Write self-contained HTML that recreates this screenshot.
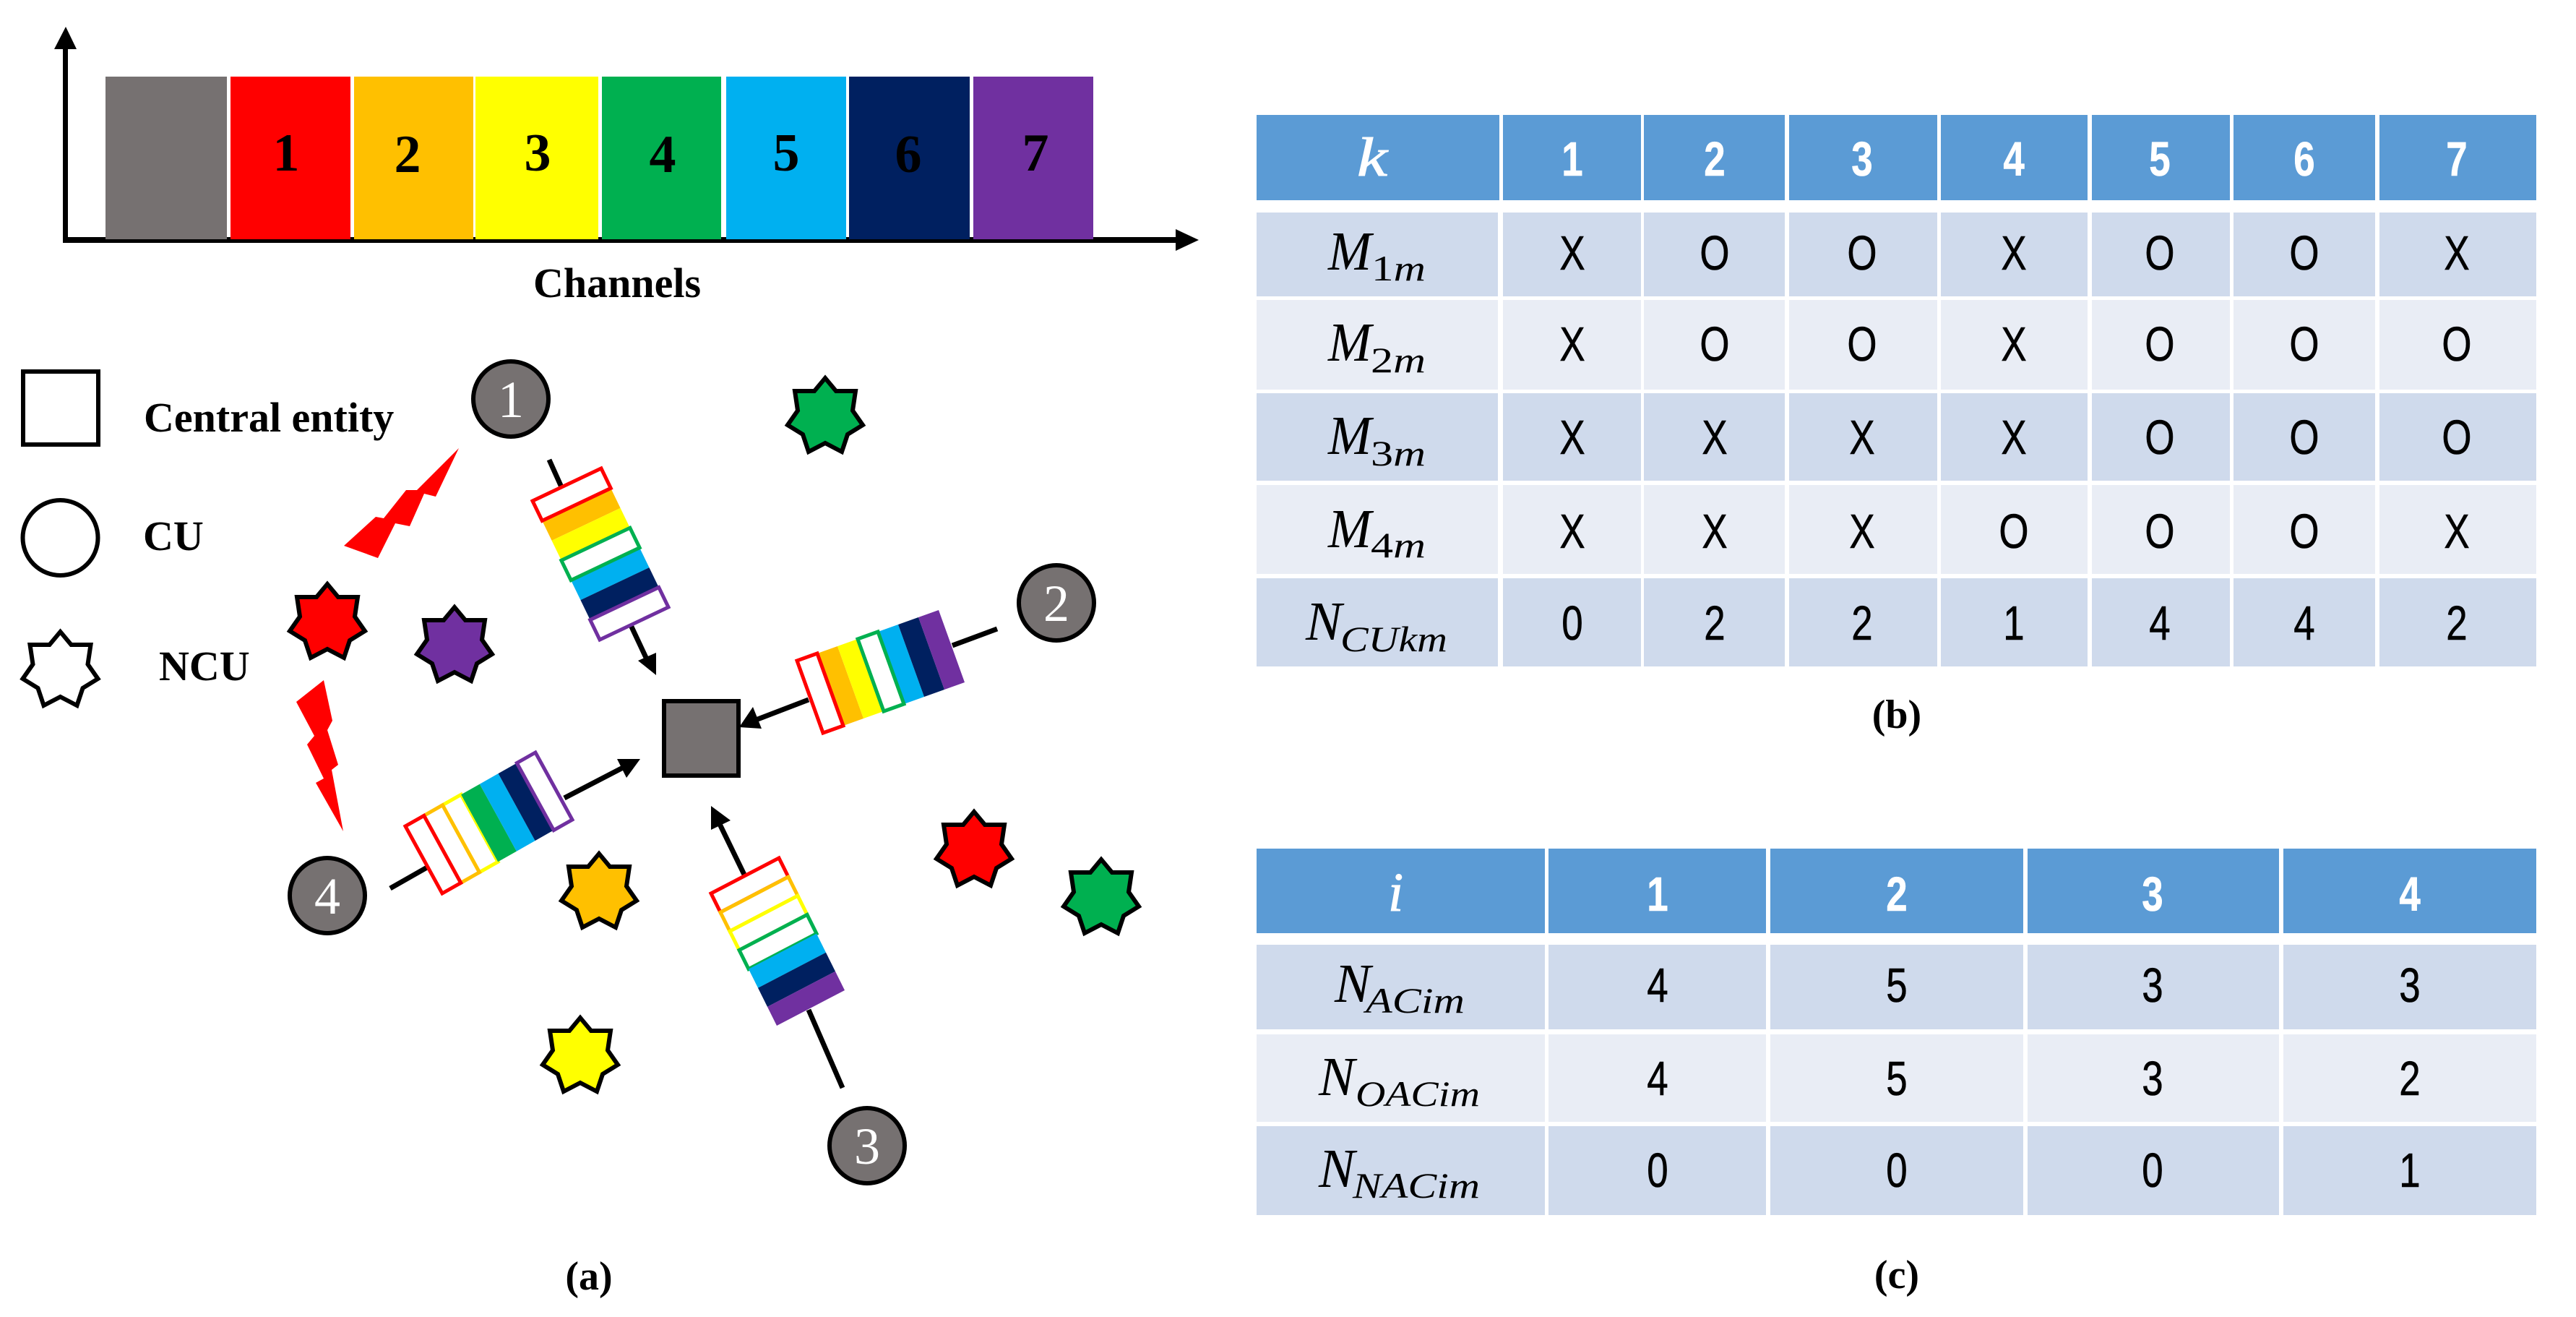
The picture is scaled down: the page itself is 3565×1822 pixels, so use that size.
<!DOCTYPE html>
<html><head><meta charset="utf-8"><style>
html,body{margin:0;padding:0;background:#fff}
svg{display:block}
.b{font-family:"Liberation Serif",serif;font-weight:bold;fill:#000}
.t{font-family:"Liberation Sans",sans-serif;font-size:67px;text-anchor:middle;fill:#000;stroke:#000;stroke-width:.6;transform-box:fill-box;transform-origin:center;transform:scaleX(.79)}
.h{fill:#fff;stroke:#fff;font-weight:bold}
.m{font-family:"Liberation Serif",serif;font-style:italic;font-size:76px;fill:#000}
.s{font-family:"Liberation Serif",serif;font-style:italic;font-size:50px;fill:#000}
.s tspan{font-style:normal}
.n{font-family:"Liberation Serif",serif;font-size:72px;fill:#fff;text-anchor:middle}
.l{stroke:#000;stroke-width:7;fill:none}
.st{stroke:#000;stroke-width:6;stroke-linejoin:miter}
.o{fill:#fff;stroke-width:5;vector-effect:non-scaling-stroke}
.f{stroke:none}
.hd{fill:#5B9BD5}.r1{fill:#CFDAEC}.r2{fill:#E9EDF5}
</style></head><body>
<svg xmlns="http://www.w3.org/2000/svg" width="3565" height="1822" viewBox="0 0 3565 1822">
<defs><polygon id="s" points="0,-53 15,-35 42,-35 38,-8 52,12 31,25 23,49 0,37 -23,49 -31,25 -52,12 -38,-8 -42,-35 -15,-35"/></defs>
<rect width="3565" height="1822" fill="#fff"/>

<!-- axes -->
<rect x="87" y="66" width="7" height="270"/>
<polygon points="91,37 75,68 106,68"/>
<rect x="87" y="328" width="1542" height="8"/>
<polygon points="1659,332 1627,317 1627,347"/>
<!-- bars -->
<rect x="146" y="106" width="168" height="225" fill="#767171"/>
<rect x="319" y="106" width="166" height="225" fill="#FF0000"/>
<rect x="490" y="106" width="165" height="225" fill="#FFC000"/>
<rect x="658" y="106" width="170" height="225" fill="#FFFF00"/>
<rect x="833" y="106" width="165" height="225" fill="#00B050"/>
<rect x="1005" y="106" width="166" height="225" fill="#00B0F0"/>
<rect x="1175" y="106" width="167" height="225" fill="#002060"/>
<rect x="1347" y="106" width="166" height="225" fill="#7030A0"/>
<g class="b" font-size="74" text-anchor="middle">
<text x="396" y="236">1</text><text x="564" y="238">2</text><text x="744" y="236">3</text><text x="917" y="238">4</text><text x="1088" y="236">5</text><text x="1257" y="238">6</text><text x="1433" y="236">7</text>
</g>
<text class="b" x="854" y="411" font-size="58" text-anchor="middle">Channels</text>

<!-- legend -->
<rect x="32" y="514" width="104" height="101" fill="#fff" stroke="#000" stroke-width="6"/>
<ellipse cx="83.5" cy="744" rx="52" ry="52" fill="#fff" stroke="#000" stroke-width="6"/>
<use href="#s" x="83.5" y="927" fill="#fff" class="st"/>
<text class="b" x="199" y="597" font-size="58">Central entity</text>
<text class="b" x="198" y="761" font-size="58">CU</text>
<text class="b" x="220" y="941" font-size="58">NCU</text>

<!-- lightning -->
<polygon fill="#FF0000" points="635,620 603,687 587,683 567,728 547,724 523,772 476,755 520,715 531,717 562,678 577,678"/>
<polygon fill="#FF0000" points="475,1150 437,1083 448,1077 425,1030 435,1018 410,971 448,941 460,997 453,1010 468,1058 459,1065"/>

<!-- stars -->
<use href="#s" x="453" y="861" fill="#FF0000" class="st"/>
<use href="#s" x="629" y="893" fill="#7030A0" class="st"/>
<use href="#s" x="1142" y="576" fill="#00B050" class="st"/>
<use href="#s" x="829" y="1234" fill="#FFC000" class="st"/>
<use href="#s" x="803" y="1461" fill="#FFFF00" class="st"/>
<use href="#s" x="1348" y="1176" fill="#FF0000" class="st"/>
<use href="#s" x="1524" y="1242" fill="#00B050" class="st"/>

<!-- connector lines and arrowheads -->
<line class="l" x1="760" y1="636" x2="778" y2="676"/>
<line class="l" x1="873" y1="865" x2="896" y2="914"/>
<polygon points="908,934 883,914 908,903"/>
<line class="l" x1="1380" y1="870" x2="1318" y2="893"/>
<line class="l" x1="1119" y1="968" x2="1046" y2="996"/>
<polygon points="1023,1006 1042,978 1054,1008"/>
<line class="l" x1="1166" y1="1505" x2="1119" y2="1397"/>
<line class="l" x1="1030" y1="1210" x2="995" y2="1138"/>
<polygon points="984,1115 984,1148 1011,1135"/>
<line class="l" x1="540" y1="1229" x2="591" y2="1200"/>
<line class="l" x1="781" y1="1104" x2="862" y2="1062"/>
<polygon points="886,1050 854,1050 867,1076"/>

<!-- stack 1 -->
<g transform="matrix(95 -45 93 192 737 693)">
<rect class="f" y=".1429" width="1" height=".1429" fill="#FFC000"/>
<rect class="f" y=".2857" width="1" height=".1429" fill="#FFFF00"/>
<rect class="f" y=".5714" width="1" height=".1429" fill="#00B0F0"/>
<rect class="f" y=".7143" width="1" height=".1429" fill="#002060"/>
<rect class="o" y="0" width="1" height=".1429" stroke="#FF0000"/>
<rect class="o" y=".4286" width="1" height=".1429" stroke="#00B050"/>
<rect class="o" y=".8571" width="1" height=".1429" stroke="#7030A0"/>
</g>
<!-- stack 2 -->
<g transform="matrix(36 100 196 -70 1103 914)">
<rect class="f" y=".1429" width="1" height=".1429" fill="#FFC000"/>
<rect class="f" y=".2857" width="1" height=".1429" fill="#FFFF00"/>
<rect class="f" y=".5714" width="1" height=".1429" fill="#00B0F0"/>
<rect class="f" y=".7143" width="1" height=".1429" fill="#002060"/>
<rect class="f" y=".8571" width="1" height=".1429" fill="#7030A0"/>
<rect class="o" y="0" width="1" height=".1429" stroke="#FF0000"/>
<rect class="o" y=".4286" width="1" height=".1429" stroke="#00B050"/>
</g>
<!-- stack 3 -->
<g transform="matrix(94 -49 91 183 984 1236)">
<rect class="o" y="0" width="1" height=".1429" stroke="#FF0000"/>
<rect class="o" y=".1429" width="1" height=".1429" stroke="#FFC000"/>
<rect class="o" y=".2857" width="1" height=".1429" stroke="#FFFF00"/>
<rect class="o" y=".4286" width="1" height=".1429" stroke="#00B050"/>
<rect class="f" y=".5714" width="1" height=".1429" fill="#00B0F0"/>
<rect class="f" y=".7143" width="1" height=".1429" fill="#002060"/>
<rect class="f" y=".8571" width="1" height=".1429" fill="#7030A0"/>
</g>
<!-- stack 4 -->
<g transform="matrix(51 93 180 -102 561 1143)">
<rect class="o" y=".2857" width="1" height=".1429" stroke="#FFFF00"/>
<rect class="o" y=".1429" width="1" height=".1429" stroke="#FFC000"/>
<rect class="o" y="0" width="1" height=".1429" stroke="#FF0000"/>
<rect class="f" y=".4286" width="1" height=".1429" fill="#00B050"/>
<rect class="f" y=".5714" width="1" height=".1429" fill="#00B0F0"/>
<rect class="f" y=".7143" width="1" height=".1429" fill="#002060"/>
<rect class="o" y=".8571" width="1" height=".1429" stroke="#7030A0"/>
</g>

<!-- central entity -->
<rect x="919" y="970" width="103" height="103" fill="#767171" stroke="#000" stroke-width="6"/>

<!-- CU nodes -->
<g fill="#767171" stroke="#000" stroke-width="6">
<circle cx="707" cy="552" r="52"/>
<circle cx="1462" cy="834" r="52"/>
<circle cx="1200" cy="1585" r="52"/>
<circle cx="453" cy="1239" r="52"/>
</g>
<text class="n" x="707" y="577">1</text>
<text class="n" x="1462" y="859">2</text>
<text class="n" x="1200" y="1610">3</text>
<text class="n" x="453" y="1264">4</text>

<!-- table b -->
<g class="hd">
<rect x="1739" y="159" width="336" height="118"/><rect x="2080" y="159" width="191" height="118"/><rect x="2275" y="159" width="195" height="118"/><rect x="2476" y="159" width="205" height="118"/><rect x="2686" y="159" width="203" height="118"/><rect x="2895" y="159" width="191" height="118"/><rect x="3091" y="159" width="196" height="118"/><rect x="3293" y="159" width="217" height="118"/>
</g>
<g class="r1">
<rect x="1739" y="294" width="334" height="116"/><rect x="2080" y="294" width="191" height="116"/><rect x="2275" y="294" width="195" height="116"/><rect x="2476" y="294" width="205" height="116"/><rect x="2686" y="294" width="203" height="116"/><rect x="2895" y="294" width="191" height="116"/><rect x="3091" y="294" width="196" height="116"/><rect x="3293" y="294" width="217" height="116"/>
</g>
<g class="r2">
<rect x="1739" y="415" width="334" height="124"/><rect x="2080" y="415" width="191" height="124"/><rect x="2275" y="415" width="195" height="124"/><rect x="2476" y="415" width="205" height="124"/><rect x="2686" y="415" width="203" height="124"/><rect x="2895" y="415" width="191" height="124"/><rect x="3091" y="415" width="196" height="124"/><rect x="3293" y="415" width="217" height="124"/>
</g>
<g class="r1">
<rect x="1739" y="544" width="334" height="121"/><rect x="2080" y="544" width="191" height="121"/><rect x="2275" y="544" width="195" height="121"/><rect x="2476" y="544" width="205" height="121"/><rect x="2686" y="544" width="203" height="121"/><rect x="2895" y="544" width="191" height="121"/><rect x="3091" y="544" width="196" height="121"/><rect x="3293" y="544" width="217" height="121"/>
</g>
<g class="r2">
<rect x="1739" y="671" width="334" height="123"/><rect x="2080" y="671" width="191" height="123"/><rect x="2275" y="671" width="195" height="123"/><rect x="2476" y="671" width="205" height="123"/><rect x="2686" y="671" width="203" height="123"/><rect x="2895" y="671" width="191" height="123"/><rect x="3091" y="671" width="196" height="123"/><rect x="3293" y="671" width="217" height="123"/>
</g>
<g class="r1">
<rect x="1739" y="800" width="334" height="122"/><rect x="2080" y="800" width="191" height="122"/><rect x="2275" y="800" width="195" height="122"/><rect x="2476" y="800" width="205" height="122"/><rect x="2686" y="800" width="203" height="122"/><rect x="2895" y="800" width="191" height="122"/><rect x="3091" y="800" width="196" height="122"/><rect x="3293" y="800" width="217" height="122"/>
</g>
<text class="m" x="1878" y="243" textLength="42" lengthAdjust="spacingAndGlyphs" style="fill:#fff;stroke:#fff;stroke-width:1">k</text>
<text class="t h" x="2176" y="243">1</text><text class="t h" x="2373" y="243">2</text><text class="t h" x="2577" y="243">3</text><text class="t h" x="2787" y="243">4</text><text class="t h" x="2989" y="243">5</text><text class="t h" x="3189" y="243">6</text><text class="t h" x="3400" y="243">7</text>

<text class="m" x="1838" y="373" textLength="60" lengthAdjust="spacingAndGlyphs">M</text><text class="s" x="1898" y="388" textLength="75" lengthAdjust="spacingAndGlyphs"><tspan>1</tspan>m</text>
<text class="t" x="2176" y="373">X</text><text class="t" x="2373" y="373">O</text><text class="t" x="2577" y="373">O</text><text class="t" x="2787" y="373">X</text><text class="t" x="2989" y="373">O</text><text class="t" x="3189" y="373">O</text><text class="t" x="3400" y="373">X</text>

<text class="m" x="1838" y="499" textLength="60" lengthAdjust="spacingAndGlyphs">M</text><text class="s" x="1897" y="515" textLength="76" lengthAdjust="spacingAndGlyphs"><tspan>2</tspan>m</text>
<text class="t" x="2176" y="499">X</text><text class="t" x="2373" y="499">O</text><text class="t" x="2577" y="499">O</text><text class="t" x="2787" y="499">X</text><text class="t" x="2989" y="499">O</text><text class="t" x="3189" y="499">O</text><text class="t" x="3400" y="499">O</text>

<text class="m" x="1838" y="628" textLength="60" lengthAdjust="spacingAndGlyphs">M</text><text class="s" x="1897" y="644" textLength="76" lengthAdjust="spacingAndGlyphs"><tspan>3</tspan>m</text>
<text class="t" x="2176" y="628">X</text><text class="t" x="2373" y="628">X</text><text class="t" x="2577" y="628">X</text><text class="t" x="2787" y="628">X</text><text class="t" x="2989" y="628">O</text><text class="t" x="3189" y="628">O</text><text class="t" x="3400" y="628">O</text>

<text class="m" x="1838" y="757" textLength="60" lengthAdjust="spacingAndGlyphs">M</text><text class="s" x="1897" y="771" textLength="76" lengthAdjust="spacingAndGlyphs"><tspan>4</tspan>m</text>
<text class="t" x="2176" y="758">X</text><text class="t" x="2373" y="758">X</text><text class="t" x="2577" y="758">X</text><text class="t" x="2787" y="758">O</text><text class="t" x="2989" y="758">O</text><text class="t" x="3189" y="758">O</text><text class="t" x="3400" y="758">X</text>

<text class="m" x="1807" y="885" textLength="50" lengthAdjust="spacingAndGlyphs">N</text><text class="s" x="1855" y="901" textLength="148" lengthAdjust="spacingAndGlyphs">CUkm</text>
<text class="t" x="2176" y="885">0</text><text class="t" x="2373" y="885">2</text><text class="t" x="2577" y="885">2</text><text class="t" x="2787" y="885">1</text><text class="t" x="2989" y="885">4</text><text class="t" x="3189" y="885">4</text><text class="t" x="3400" y="885">2</text>

<text class="b" x="2625" y="1007" font-size="56" text-anchor="middle">(b)</text>

<!-- table c -->
<g class="hd">
<rect x="1739" y="1174" width="399" height="117"/><rect x="2143" y="1174" width="301" height="117"/><rect x="2450" y="1174" width="350" height="117"/><rect x="2806" y="1174" width="348" height="117"/><rect x="3160" y="1174" width="350" height="117"/>
</g>
<g class="r1">
<rect x="1739" y="1307" width="399" height="117"/><rect x="2143" y="1307" width="301" height="117"/><rect x="2450" y="1307" width="350" height="117"/><rect x="2806" y="1307" width="348" height="117"/><rect x="3160" y="1307" width="350" height="117"/>
</g>
<g class="r2">
<rect x="1739" y="1431" width="399" height="121"/><rect x="2143" y="1431" width="301" height="121"/><rect x="2450" y="1431" width="350" height="121"/><rect x="2806" y="1431" width="348" height="121"/><rect x="3160" y="1431" width="350" height="121"/>
</g>
<g class="r1">
<rect x="1739" y="1558" width="399" height="123"/><rect x="2143" y="1558" width="301" height="123"/><rect x="2450" y="1558" width="350" height="123"/><rect x="2806" y="1558" width="348" height="123"/><rect x="3160" y="1558" width="350" height="123"/>
</g>
<text class="m" x="1921" y="1260" style="fill:#fff;stroke:#fff;stroke-width:1">i</text>
<text class="t h" x="2294" y="1260">1</text><text class="t h" x="2625" y="1260">2</text><text class="t h" x="2979" y="1260">3</text><text class="t h" x="3335" y="1260">4</text>

<text class="m" x="1847" y="1386" textLength="50" lengthAdjust="spacingAndGlyphs">N</text><text class="s" x="1890" y="1401" textLength="137" lengthAdjust="spacingAndGlyphs">ACim</text>
<text class="t" x="2294" y="1386">4</text><text class="t" x="2625" y="1386">5</text><text class="t" x="2979" y="1386">3</text><text class="t" x="3335" y="1386">3</text>

<text class="m" x="1825" y="1515" textLength="50" lengthAdjust="spacingAndGlyphs">N</text><text class="s" x="1876" y="1530" textLength="172" lengthAdjust="spacingAndGlyphs">OACim</text>
<text class="t" x="2294" y="1515">4</text><text class="t" x="2625" y="1515">5</text><text class="t" x="2979" y="1515">3</text><text class="t" x="3335" y="1515">2</text>

<text class="m" x="1825" y="1642" textLength="50" lengthAdjust="spacingAndGlyphs">N</text><text class="s" x="1872" y="1657" textLength="176" lengthAdjust="spacingAndGlyphs">NACim</text>
<text class="t" x="2294" y="1642">0</text><text class="t" x="2625" y="1642">0</text><text class="t" x="2979" y="1642">0</text><text class="t" x="3335" y="1642">1</text>

<text class="b" x="2625" y="1782" font-size="56" text-anchor="middle">(c)</text>
<text class="b" x="815" y="1784" font-size="56" text-anchor="middle">(a)</text>
</svg>
</body></html>
